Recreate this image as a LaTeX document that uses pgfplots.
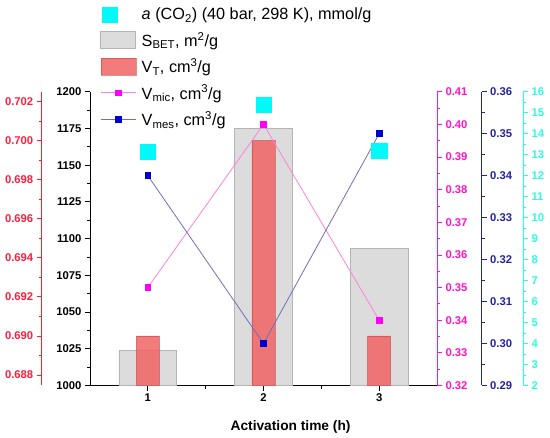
\documentclass[border=0pt]{standalone}
\usepackage{pgfplots}
\pgfplotsset{compat=1.18}
\usepackage{fontspec}
\setmainfont{Liberation Sans}
\definecolor{redax}{RGB}{255,30,60}
\definecolor{magax}{RGB}{255,20,200}
\definecolor{bluax}{RGB}{35,35,160}
\definecolor{cyaax}{RGB}{40,255,225}
\definecolor{cyanm}{RGB}{0,250,250}
\definecolor{grayf}{RGB}{220,220,220}
\definecolor{grayd}{RGB}{180,180,180}
\definecolor{redf}{RGB}{240,100,100}
\definecolor{redd}{RGB}{200,70,70}
\definecolor{magl}{RGB}{255,130,215}
\definecolor{magm}{RGB}{255,0,255}
\definecolor{blul}{RGB}{110,110,190}
\definecolor{blum}{RGB}{0,0,210}
\pgfplotsset{
  base/.style={
    scale only axis, height=293.8bp,
    /pgf/number format/assume math mode=true,
    /pgf/number format/1000 sep={},
    scaled y ticks=false,
    tick align=outside,
    major tick length=5bp, minor tick length=3bp,
    ticklabel style={font=\bfseries\fontsize{11.3}{13}\selectfont},
    minor tick num=1,
  },
  sidey/.style={
    base, axis x line=none, xtick=\empty,
    y axis line style={color=#1, line width=0.9bp},
    ytick style={color=#1, line width=0.8bp},
    yticklabel style={color=#1},
    every y tick/.style={color=#1, line width=0.8bp},
    every minor y tick/.style={color=#1, line width=0.8bp},
  },
}
\begin{document}
\begin{tikzpicture}
\useasboundingbox (0,0) rectangle (550bp,438bp);
% main axis: S_BET
\begin{axis}[base, at={(90bp,52.5bp)}, anchor=south west, width=347bp,
  xmin=0.5, xmax=3.5, ymin=1000, ymax=1200,
  axis x line*=bottom, axis y line*=left,
  axis line style={line width=0.9bp},
  every tick/.style={black, line width=0.8bp},
  xtick={1,2,3}, minor xtick={1.5,2.5},
  ytick={1000,1025,...,1200},
  xlabel={\bfseries Activation time (h)},
  xlabel style={font=\bfseries\fontsize{13.8}{16}\selectfont, at={(axis description cs:0.578,-0.1515)}, anchor=base},
]
\addplot[ybar, bar width=0.5, fill=grayf, draw=grayd, line width=0.8bp] coordinates {(1,1023.7) (2,1175) (3,1093.5)};
\end{axis}
% red axis: V_T
\begin{axis}[sidey=redax, at={(41.7bp,52.5bp)}, anchor=south west, width=395.3bp,
  xmin=0.0824, xmax=3.5, ymin=0.68746, ymax=0.70251,
  axis y line*=left,
  ytick={0.688,0.690,0.692,0.694,0.696,0.698,0.700,0.702},
  yticklabel style={/pgf/number format/.cd, fixed, fixed zerofill, precision=3},
]
\addplot[ybar, bar width=0.2, fill=redf, fill opacity=0.85, draw=redd, draw opacity=0.6, line width=0.6bp] coordinates {(1,0.690) (2,0.700) (3,0.690)};
\end{axis}
% magenta axis: V_mic
\begin{axis}[sidey=magax, at={(90bp,52.5bp)}, anchor=south west, width=347bp,
  xmin=0.5, xmax=3.5, ymin=0.32, ymax=0.41, clip=false,
  axis y line*=right,
  ytick={0.32,0.33,0.34,0.35,0.36,0.37,0.38,0.39,0.40,0.41},
  yticklabel style={/pgf/number format/.cd, fixed, fixed zerofill, precision=2},
]
\addplot[magl, line width=0.8bp, mark=square*, mark size=2.9bp, mark options={magm, fill=magm}] coordinates {(1,0.350) (2,0.400) (3,0.340)};
\end{axis}
% blue axis: V_mes
\begin{axis}[sidey=bluax, at={(90bp,52.5bp)}, anchor=south west, width=391.7bp,
  xmin=0.5, xmax=3.8865, ymin=0.29, ymax=0.36, clip=false,
  axis y line*=right,
  ytick={0.29,0.30,0.31,0.32,0.33,0.34,0.35,0.36},
  yticklabel style={/pgf/number format/.cd, fixed, fixed zerofill, precision=2},
]
\addplot[blul, line width=0.8bp, mark=square*, mark size=2.9bp, mark options={blum, fill=blum}] coordinates {(1,0.340) (2,0.300) (3,0.350)};
\end{axis}
% cyan axis: a(CO2)
\begin{axis}[sidey=cyaax, at={(90bp,52.5bp)}, anchor=south west, width=433bp,
  xmin=0.5, xmax=4.2435, ymin=2, ymax=16, clip=false,
  axis y line*=right,
  ytick={2,3,...,16},
  legend style={at={(axis description cs:0.0236,1.29)}, anchor=north west, draw=none, fill=none,
    inner sep=0pt, row sep=7.7bp, font=\fontsize{16.3}{19}\selectfont,
    nodes={inner sep=1.5bp},
    /tikz/every odd column/.append style={column sep=4bp}},
  legend cell align=left,
]
\addplot[only marks, mark=square*, mark size=7.6bp, mark options={cyanm, fill=cyanm}] coordinates {(1,13.15) (2,15.39) (3,13.2)};
\addlegendentry{\textit{a} (CO\textsubscript{2}) (40 bar, 298 K), mmol/g}
\addlegendimage{legend image code/.code={\draw[fill=grayf, draw=grayd, line width=0.8bp] (0bp,-8.5bp) rectangle (35bp,8.5bp);}}
\addlegendentry{S\textsubscript{BET}, m\textsuperscript{2}/g}
\addlegendimage{legend image code/.code={\draw[fill=redf, fill opacity=0.85, draw=redd, draw opacity=0.6, line width=0.6bp] (0bp,-8.5bp) rectangle (35bp,8.5bp);}}
\addlegendentry{V\textsubscript{T}, cm\textsuperscript{3}/g}
\addlegendimage{legend image code/.code={\draw[magl, line width=0.8bp] (0bp,0bp) -- (35bp,0bp); \fill[magm] (14.6bp,-2.9bp) rectangle (20.4bp,2.9bp);}}
\addlegendentry{V\textsubscript{mic}, cm\textsuperscript{3}/g}
\addlegendimage{legend image code/.code={\draw[blul, line width=0.8bp] (0bp,0bp) -- (35bp,0bp); \fill[blum] (14.6bp,-2.9bp) rectangle (20.4bp,2.9bp);}}
\addlegendentry{V\textsubscript{mes}, cm\textsuperscript{3}/g}
\end{axis}
\end{tikzpicture}
\end{document}
